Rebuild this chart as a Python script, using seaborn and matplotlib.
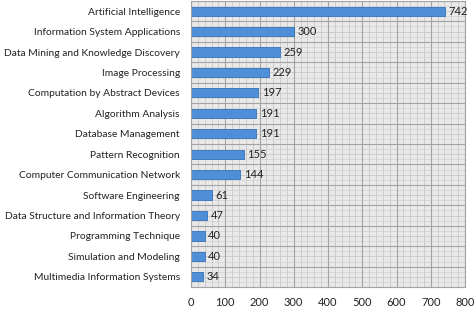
import matplotlib
matplotlib.use("Agg")
import matplotlib.pyplot as plt
import seaborn as sns
import pandas as pd
import numpy as np
from matplotlib.ticker import MultipleLocator

categories = [
    "Artificial Intelligence",
    "Information System Applications",
    "Data Mining and Knowledge Discovery",
    "Image Processing",
    "Computation by Abstract Devices",
    "Algorithm Analysis",
    "Database Management",
    "Pattern Recognition",
    "Computer Communication Network",
    "Software Engineering",
    "Data Structure and Information Theory",
    "Programming Technique",
    "Simulation and Modeling",
    "Multimedia Information Systems",
]
values = [742, 300, 259, 229, 197, 191, 191, 155, 144, 61, 47, 40, 40, 34]
x_ticks = [0, 100, 200, 300, 400, 500, 600, 700, 800]

df = pd.DataFrame({"category": categories, "count": values})

sns.set_theme(style="white")
plt.rcParams["font.family"] = ["Lato", "DejaVu Sans"]

fig = plt.figure(figsize=(4.74, 3.09), dpi=100)
ax = fig.add_axes([0.403, 0.071, 0.578, 0.926])
ax.set_facecolor("#E9E9E9")

sns.barplot(data=df, x="count", y="category", orient="h", color="#4F8FD8",
            edgecolor="#3571B5", linewidth=0.6, width=0.45, saturation=1, ax=ax)

ax.set_xlim(0, 800)
ax.set_ylim(len(categories) - 0.5, -0.5)
ax.set_xticks(x_ticks)
ax.set_xticklabels([str(t) for t in x_ticks])
ax.xaxis.set_minor_locator(MultipleLocator(20))
ax.set_yticks(np.arange(-0.5, len(categories), 1.0), minor=True)
ax.set_yticks(range(len(categories)))
ax.set_yticklabels(categories)

ax.grid(False)
ax.set_axisbelow(True)
ax.xaxis.grid(True, which="major", color="#A3A3A3", linewidth=0.8)
ax.xaxis.grid(True, which="minor", color="#C9C9C9", linewidth=0.6)
ax.yaxis.grid(True, which="minor", color="#A3A3A3", linewidth=0.8)
for y in np.arange(-0.5, len(categories), 1.0):
    ax.axhline(y + 0.5, color="#C9C9C9", linewidth=0.6, zorder=0)
    ax.axhline(y + 0.25, color="#D2D2D2", linewidth=0.5, zorder=0)
    ax.axhline(y + 0.75, color="#D2D2D2", linewidth=0.5, zorder=0)

for s in ax.spines.values():
    s.set_color("#A3A3A3")
    s.set_linewidth(0.8)

ax.tick_params(axis="both", which="both", length=0)
ax.tick_params(axis="y", pad=8, labelsize=7.4, colors="#222222")
ax.tick_params(axis="x", pad=7, labelsize=8, colors="#222222")
ax.set_xlabel("")
ax.set_ylabel("")

for i, v in enumerate(values):
    ax.text(v + 10, i, str(v), va="center", ha="left", fontsize=8, color="#222222")

fig.savefig("out.png", dpi=100)
